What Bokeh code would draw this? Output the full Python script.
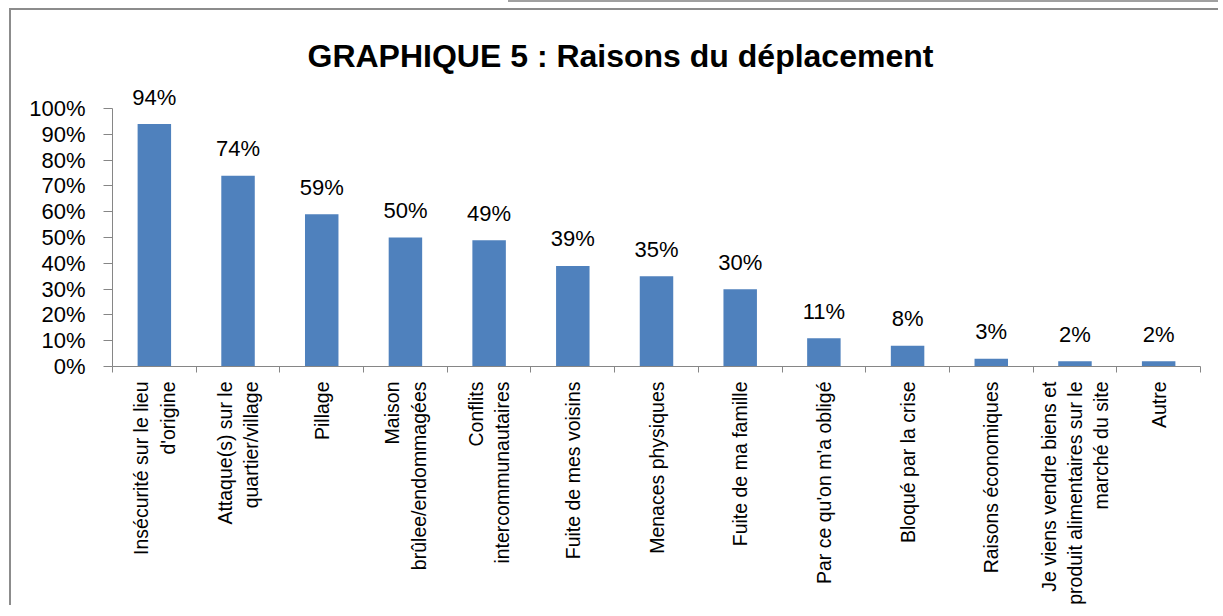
import math
from bokeh.plotting import figure
from bokeh.layouts import column
from bokeh.models import (Range1d, LinearAxis, FixedTicker, NumeralTickFormatter, ColumnDataSource)
from bokeh.embed import file_html
from bokeh.resources import INLINE
from bokeh.core.properties import value

categories = [
    "Insécurité sur le lieu\nd'origine",
    "Attaque(s) sur le\nquartier/village",
    "Pillage",
    "Maison\nbrûlee/endommagées",
    "Conflits\nintercommunautaires",
    "Fuite de mes voisins",
    "Menaces physiques",
    "Fuite de ma famille",
    "Par ce qu'on m'a obligé",
    "Bloqué par la crise",
    "Raisons économiques",
    "Je viens vendre biens et\nproduit alimentaires sur le\nmarché du site",
    "Autre",
]
values = [0.94, 0.74, 0.59, 0.50, 0.49, 0.39, 0.35, 0.30, 0.11, 0.08, 0.03, 0.02, 0.02]
value_labels = ["94%", "74%", "59%", "50%", "49%", "39%", "35%", "30%", "11%", "8%", "3%", "2%", "2%"]
y_ticks = [0.0, 0.1, 0.2, 0.3, 0.4, 0.5, 0.6, 0.7, 0.8, 0.9, 1.0]

FONT = "Liberation Sans"
AXIS_COLOR = "#868686"
BAR_COLOR = "#4F81BD"

n = len(categories)
centers = [i + 0.5 for i in range(n)]
src = ColumnDataSource(dict(x=centers, top=values, lab=value_labels))

p = figure(frame_width=1086, frame_height=284, output_backend="svg", toolbar_location=None,
           x_range=Range1d(0, n), y_range=Range1d(0, 1.109),
           x_axis_type=None, y_axis_type=None,
           min_border_left=101, min_border_right=20, min_border_top=70, min_border_bottom=0)
p.margin = (8, 0, 0, 9)
p.grid.visible = False
p.outline_line_color = None
p.background_fill_color = "white"
p.border_fill_color = "white"
p.styles = {"border-left": "2px solid #8c8c8c", "border-top": "2px solid #8c8c8c"}

p.title.text = "GRAPHIQUE 5 : Raisons du déplacement"
p.title.align = "left"
p.title.offset = 195
p.title.text_font = FONT
p.title.text_font_size = "32px"
p.title.text_font_style = "bold"
p.title.text_color = "black"
p.title.standoff = 14

# y axis
yax = LinearAxis(ticker=FixedTicker(ticks=y_ticks), formatter=NumeralTickFormatter(format="0%"),
                 bounds=(0, 1))
yax.axis_line_color = AXIS_COLOR
yax.major_tick_line_color = AXIS_COLOR
yax.major_tick_out = 9
yax.major_tick_in = 0
yax.minor_tick_line_color = None
yax.major_label_text_font = FONT
yax.major_label_text_font_size = "22px"
yax.major_label_text_color = "black"
yax.major_label_standoff = 18
p.add_layout(yax, "left")

# x tick axis (ticks at category boundaries)
xticks_ax = LinearAxis(ticker=FixedTicker(ticks=list(range(n + 1))))
xticks_ax.axis_line_color = AXIS_COLOR
xticks_ax.major_tick_line_color = AXIS_COLOR
xticks_ax.major_tick_out = 6
xticks_ax.major_tick_in = 0
xticks_ax.minor_tick_line_color = None
xticks_ax.major_label_text_font_size = "0px"
xticks_ax.major_label_text_color = None
xticks_ax.major_label_standoff = 0
p.add_layout(xticks_ax, "below")

# category labels axis (labels at category centres)
cat_ax = LinearAxis(ticker=FixedTicker(ticks=centers))
cat_ax.major_label_overrides = {c: lab for c, lab in zip(centers, categories)}
cat_ax.axis_line_color = None
cat_ax.major_tick_line_color = None
cat_ax.minor_tick_line_color = None
cat_ax.major_label_orientation = math.pi / 2
cat_ax.major_label_text_align = "center"
cat_ax.major_label_text_font = FONT
cat_ax.major_label_text_font_size = "19.5px"
cat_ax.major_label_text_color = "black"
cat_ax.major_label_standoff = 3
p.add_layout(cat_ax, "below")

p.vbar(x="x", top="top", width=0.4, source=src, fill_color=BAR_COLOR, line_color=None)
p.text(x="x", y="top", text="lab", source=src,
       text_align="center", text_baseline="alphabetic", y_offset=-27,
       text_font=value(FONT), text_font_size="22px", text_color="black")

layout = column(p, styles={
    "background-image": "linear-gradient(#a0a0a0, #a0a0a0)",
    "background-repeat": "no-repeat",
    "background-position": "508px 0px",
    "background-size": "715px 2px",
})

open("out.html", "w").write(file_html(layout, INLINE))
